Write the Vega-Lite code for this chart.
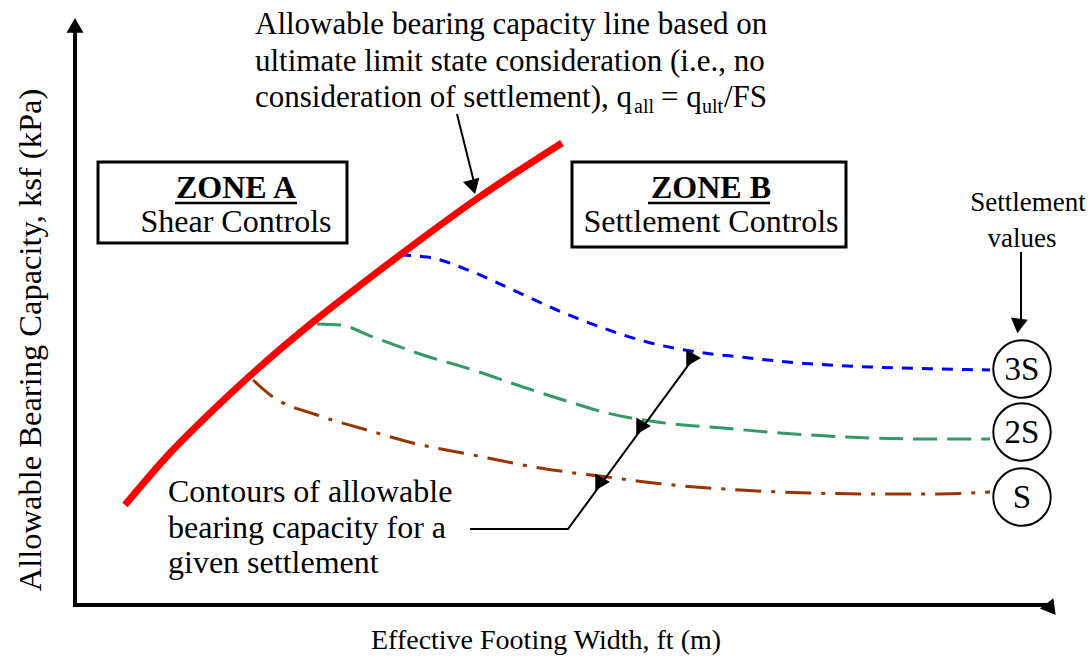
{
  "$schema": "https://vega.github.io/schema/vega-lite/v6.json",
  "width": 1090,
  "height": 658,
  "autosize": {"type": "fit", "contains": "padding"},
  "padding": 0,
  "background": "white",
  "config": {"view": {"stroke": null}, "text": {"font": "Liberation Serif", "color": "black"}},
  "datasets": {
    "axes": [
      {"x": -2, "y": 0, "x2": 974, "y2": 0},
      {"x": 0, "y": -2, "x2": 0, "y2": 578}
    ],
    "pointers": [
      {"x": 382, "y": 491, "x2": 399.2, "y2": 422.1},
      {"x": 946, "y": 353, "x2": 946, "y2": 282.4}
    ],
    "leader": [
      {"o": 1, "x": 395, "y": 76},
      {"o": 2, "x": 493, "y": 76},
      {"o": 3, "x": 618.6, "y": 247.1}
    ],
    "heads": [
      {"x": 0, "y": 579.6, "dir": "up"},
      {"x": 975.6, "y": 0, "dir": "right"},
      {"x": 399.2, "y": 422.1, "dir": "down-right"},
      {"x": 946, "y": 282.4, "dir": "down"},
      {"x": 527.6, "y": 123.1, "dir": "up-right"},
      {"x": 568.6, "y": 179.1, "dir": "up-right"},
      {"x": 618.6, "y": 247.1, "dir": "up-right"}
    ],
    "underlines": [
      {"x": 100, "y": 402, "x2": 222, "y2": 402},
      {"x": 573, "y": 402, "x2": 695, "y2": 402}
    ],
    "boxes": [
      {"x": 23, "y": 443, "x2": 272, "y2": 362},
      {"x": 497, "y": 443, "x2": 771, "y2": 358}
    ],
    "capacity": [
      {"x": 50, "y": 100}, {"x": 95, "y": 152}, {"x": 135, "y": 192}, {"x": 178, "y": 232},
      {"x": 238, "y": 283}, {"x": 292, "y": 325}, {"x": 345, "y": 365}, {"x": 403, "y": 407},
      {"x": 487, "y": 462}
    ],
    "contours": [
      {"s": "3S", "x": 325, "y": 350}, {"s": "3S", "x": 352, "y": 348}, {"s": "3S", "x": 398, "y": 333},
      {"s": "3S", "x": 438, "y": 315}, {"s": "3S", "x": 482, "y": 295}, {"s": "3S", "x": 528, "y": 277},
      {"s": "3S", "x": 572, "y": 263}, {"s": "3S", "x": 622, "y": 253}, {"s": "3S", "x": 665, "y": 248},
      {"s": "3S", "x": 725, "y": 242}, {"s": "3S", "x": 795, "y": 238}, {"s": "3S", "x": 865, "y": 236},
      {"s": "3S", "x": 915, "y": 235},
      {"s": "2S", "x": 242, "y": 281}, {"s": "2S", "x": 265, "y": 280}, {"s": "2S", "x": 298, "y": 268},
      {"s": "2S", "x": 348, "y": 250}, {"s": "2S", "x": 398, "y": 235}, {"s": "2S", "x": 448, "y": 218},
      {"s": "2S", "x": 498, "y": 202}, {"s": "2S", "x": 532, "y": 192}, {"s": "2S", "x": 582, "y": 183},
      {"s": "2S", "x": 648, "y": 177}, {"s": "2S", "x": 705, "y": 172}, {"s": "2S", "x": 772, "y": 168},
      {"s": "2S", "x": 845, "y": 166}, {"s": "2S", "x": 915, "y": 166},
      {"s": "S", "x": 178, "y": 225}, {"s": "S", "x": 198, "y": 208}, {"s": "S", "x": 242, "y": 190},
      {"s": "S", "x": 292, "y": 175}, {"s": "S", "x": 338, "y": 162}, {"s": "S", "x": 398, "y": 150},
      {"s": "S", "x": 465, "y": 137}, {"s": "S", "x": 532, "y": 128}, {"s": "S", "x": 598, "y": 120},
      {"s": "S", "x": 665, "y": 115}, {"s": "S", "x": 735, "y": 112}, {"s": "S", "x": 805, "y": 111},
      {"s": "S", "x": 865, "y": 111}, {"s": "S", "x": 915, "y": 113}
    ],
    "circles": [
      {"x": 947, "y": 236, "t": "3S"},
      {"x": 947, "y": 173, "t": "2S"},
      {"x": 947, "y": 108, "t": "S"}
    ],
    "notes": [
      {"g": "top", "x": 180, "y": 571, "t": "Allowable bearing capacity line based on"},
      {"g": "top", "x": 180, "y": 534, "t": "ultimate limit state consideration (i.e., no"},
      {"g": "top", "x": 180, "y": 498, "t": "consideration of settlement), q"},
      {"g": "sub", "x": 559, "y": 492, "t": "all"},
      {"g": "top", "x": 586, "y": 498, "t": "= q"},
      {"g": "sub", "x": 627, "y": 492, "t": "ult"},
      {"g": "top", "x": 649, "y": 498, "t": "/FS"},
      {"g": "boxTitle", "x": 161, "y": 407, "t": "ZONE A"},
      {"g": "center", "x": 161, "y": 373, "t": "Shear Controls"},
      {"g": "boxTitle", "x": 636, "y": 407, "t": "ZONE B"},
      {"g": "center", "x": 636, "y": 373, "t": "Settlement Controls"},
      {"g": "side", "x": 953, "y": 394, "t": "Settlement"},
      {"g": "side", "x": 947, "y": 358, "t": "values"},
      {"g": "note", "x": 93, "y": 103, "t": "Contours of allowable"},
      {"g": "note", "x": 93, "y": 67, "t": "bearing capacity for a"},
      {"g": "note", "x": 93, "y": 32, "t": "given settlement"},
      {"g": "xtitle", "x": 471, "y": -44, "t": "Effective Footing Width, ft (m)"},
      {"g": "ytitle", "x": -34, "y": 265, "t": "Allowable Bearing Capacity, ksf (kPa)"}
    ]
  },
  "encoding": {
    "x": {"field": "x", "type": "quantitative", "scale": {"domain": [-75, 1015], "nice": false, "zero": false}, "axis": null},
    "y": {"field": "y", "type": "quantitative", "scale": {"domain": [-53, 605], "nice": false, "zero": false}, "axis": null}
  },
  "layer": [
    {
      "data": {"name": "boxes"},
      "mark": {"type": "rect", "fill": "white", "fillOpacity": 0, "stroke": "black", "strokeWidth": 3},
      "encoding": {"x2": {"field": "x2"}, "y2": {"field": "y2"}}
    },
    {
      "data": {"name": "contours"},
      "mark": {"type": "line", "strokeWidth": 3, "interpolate": "monotone", "strokeCap": "butt"},
      "encoding": {
        "color": {"field": "s", "type": "nominal", "scale": {"domain": ["3S", "2S", "S"], "range": ["#0000ff", "#339966", "#993300"]}, "legend": null},
        "strokeDash": {"field": "s", "type": "nominal", "scale": {"domain": ["3S", "2S", "S"], "range": [[11, 9], [24, 10], [26, 10, 4, 10]]}, "legend": null}
      }
    },
    {
      "data": {"name": "capacity"},
      "mark": {"type": "line", "color": "#ff0000", "strokeWidth": 7, "interpolate": "monotone", "strokeCap": "butt"},
      "encoding": {}
    },
    {
      "data": {"name": "axes"},
      "mark": {"type": "rule", "color": "black", "strokeWidth": 4},
      "encoding": {"x2": {"field": "x2"}, "y2": {"field": "y2"}}
    },
    {
      "data": {"name": "pointers"},
      "mark": {"type": "rule", "color": "black", "strokeWidth": 2},
      "encoding": {"x2": {"field": "x2"}, "y2": {"field": "y2"}}
    },
    {
      "data": {"name": "underlines"},
      "mark": {"type": "rule", "color": "black", "strokeWidth": 2.5},
      "encoding": {"x2": {"field": "x2"}, "y2": {"field": "y2"}}
    },
    {
      "data": {"name": "leader"},
      "mark": {"type": "line", "color": "black", "strokeWidth": 2},
      "encoding": {"order": {"field": "o", "type": "quantitative"}}
    },
    {
      "data": {"name": "heads"},
      "mark": {"type": "point", "shape": "triangle-up", "filled": true, "fill": "black", "opacity": 1, "strokeWidth": 0, "size": 289},
      "encoding": {
        "angle": {"field": "dir", "type": "nominal", "scale": {"domain": ["up", "right", "down-right", "down", "up-right"], "range": [0, 90, 166, 180, 36]}, "legend": null}
      }
    },
    {
      "data": {"name": "circles"},
      "mark": {"type": "point", "shape": "circle", "filled": true, "fill": "white", "stroke": "black", "strokeWidth": 2, "opacity": 1, "size": 3300}
    },
    {
      "data": {"name": "circles"},
      "mark": {"type": "text", "fontSize": 33, "align": "center", "baseline": "middle", "dy": 1},
      "encoding": {"text": {"field": "t"}}
    },
    {
      "data": {"name": "notes"},
      "transform": [{"filter": "datum.g === 'top'"}],
      "mark": {"type": "text", "fontSize": 31, "align": "left", "baseline": "alphabetic"},
      "encoding": {"text": {"field": "t"}}
    },
    {
      "data": {"name": "notes"},
      "transform": [{"filter": "datum.g === 'sub'"}],
      "mark": {"type": "text", "fontSize": 20, "align": "left", "baseline": "alphabetic"},
      "encoding": {"text": {"field": "t"}}
    },
    {
      "data": {"name": "notes"},
      "transform": [{"filter": "datum.g === 'boxTitle'"}],
      "mark": {"type": "text", "fontSize": 32, "fontWeight": "bold", "align": "center", "baseline": "alphabetic"},
      "encoding": {"text": {"field": "t"}}
    },
    {
      "data": {"name": "notes"},
      "transform": [{"filter": "datum.g === 'center'"}],
      "mark": {"type": "text", "fontSize": 32, "align": "center", "baseline": "alphabetic"},
      "encoding": {"text": {"field": "t"}}
    },
    {
      "data": {"name": "notes"},
      "transform": [{"filter": "datum.g === 'side'"}],
      "mark": {"type": "text", "fontSize": 27, "align": "center", "baseline": "alphabetic"},
      "encoding": {"text": {"field": "t"}}
    },
    {
      "data": {"name": "notes"},
      "transform": [{"filter": "datum.g === 'note'"}],
      "mark": {"type": "text", "fontSize": 32, "align": "left", "baseline": "alphabetic"},
      "encoding": {"text": {"field": "t"}}
    },
    {
      "data": {"name": "notes"},
      "transform": [{"filter": "datum.g === 'xtitle'"}],
      "mark": {"type": "text", "fontSize": 28, "align": "center", "baseline": "alphabetic"},
      "encoding": {"text": {"field": "t"}}
    },
    {
      "data": {"name": "notes"},
      "transform": [{"filter": "datum.g === 'ytitle'"}],
      "mark": {"type": "text", "fontSize": 32.5, "align": "center", "baseline": "alphabetic", "angle": 270},
      "encoding": {"text": {"field": "t"}}
    }
  ]
}
